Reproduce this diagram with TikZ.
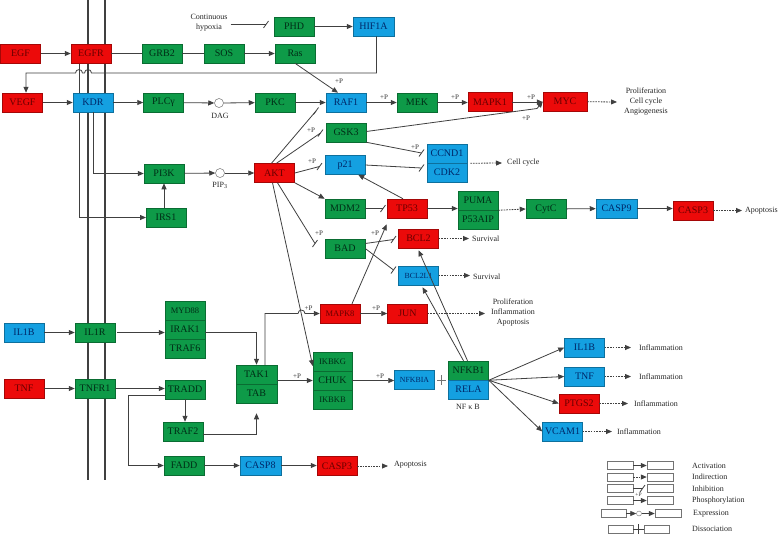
\documentclass[tikz,border=0pt]{standalone}
\usepackage{fontspec}
\setmainfont{Liberation Serif}
\usetikzlibrary{arrows.meta,calc}
\definecolor{kred}{RGB}{236,10,10}
\definecolor{kgreen}{RGB}{14,154,72}
\definecolor{kblue}{RGB}{20,160,225}
\definecolor{kredt}{RGB}{105,0,0}
\definecolor{kgreent}{RGB}{0,45,22}
\definecolor{kbluet}{RGB}{0,40,105}
\definecolor{lnc}{RGB}{64,64,64}
\newcommand\inhtick[1]{\draw[conn] ($(#1)+(-2.5,3.5)$) -- ($(#1)+(2.5,-3.5)$);}
\begin{document}
\begin{tikzpicture}[x=1pt,y=-1pt,
 gene/.style={rectangle, minimum width=40pt, minimum height=19pt, inner sep=0pt, font=\fontsize{10}{12}\selectfont, line width=0.5pt},
 rg/.style={gene, fill=kred, draw=kred!70!black, text=kredt},
 gg/.style={gene, fill=kgreen, draw=kgreen!70!black, text=kgreent},
 bg/.style={gene, fill=kblue, draw=kblue!70!black, text=kbluet},
 sm/.style={font=\fontsize{8.5}{10}\selectfont},
 xs/.style={font=\fontsize{7.8}{9}\selectfont},
 lbl/.style={font=\fontsize{8}{10}\selectfont, inner sep=0pt, text=black!85},
 pl/.style={font=\fontsize{7}{8}\selectfont, inner sep=0pt, text=black!80},
 conn/.style={draw=lnc, line width=0.8pt},
 act/.style={conn, -{Triangle[length=6pt,width=5pt]}},
 ind/.style={act, dash pattern=on 1.6pt off 1.1pt},
 met/.style={circle, draw=black!55, fill=white, minimum size=9pt, inner sep=0pt, line width=0.5pt},
 memb/.style={line width=2.8pt, draw=black!75},
 leg/.style={rectangle, minimum width=26pt, minimum height=8pt, inner sep=0pt, draw=black!55, fill=white, line width=0.5pt}
]
\useasboundingbox[fill=white] (0,0) rectangle (778,536);

% membrane
\draw[memb] (88,0) -- (88,480);
\draw[memb] (105,0) -- (105,480);

% line that passes behind the KDR box
\coordinate (ex) at (79,63);
\draw[act] (ex) |- (146,217.5) coordinate (irsw);

% ---------- nodes ----------
\node[rg] (EGF) at (20.5,53.5) {EGF};
\node[rg] (EGFR) at (91,53.5) {EGFR};
\node[gg] (GRB2) at (162,53.5) {GRB2};
\node[gg] (SOS) at (224,53.5) {SOS};
\node[gg] (Ras) at (295,53.5) {Ras};
\node[gg] (PHD) at (294,26.5) {PHD};
\node[bg, minimum width=41pt] (HIF1A) at (373.5,26.5) {HIF1A};
\node[lbl, align=center] (hyp) at (209,23) {Continuous\\hypoxia};
\node[rg] (VEGF) at (22.5,102.5) {VEGF};
\node[bg] (KDR) at (93,102.5) {KDR};
\node[gg] (PLCy) at (163.5,102.5) {PLCγ};
\node[met] (DAG) at (219,103) {};
\node[lbl] (DAGl) at (220,115.5) {DAG};
\node[gg] (PKC) at (275,102.5) {PKC};
\node[bg] (RAF1) at (346,102.5) {RAF1};
\node[gg] (MEK) at (417,102.5) {MEK};
\node[rg, minimum width=44pt] (MAPK1) at (490,102) {MAPK1};
\node[rg, minimum width=44pt] (MYC) at (565,101.5) {MYC};
\node[lbl, align=center] (prolif1) at (646,102) {Proliferation\\Cell cycle\\Angiogenesis};
\node[gg] (GSK3) at (346,132.5) {GSK3};
\node[bg] (p21) at (345,165) {p21};
\node[bg] (CCND1) at (447,153.5) {CCND1};
\node[bg] (CDK2) at (447,172.5) {CDK2};
\node[lbl, anchor=west] (cc) at (507,163) {Cell cycle};
\node[gg] (PI3K) at (164,173.5) {PI3K};
\node[met] (PIP3) at (220,173) {};
\node[lbl] (PIP3l) at (220,185.5) {PIP\textsubscript{3}};
\node[rg] (AKT) at (274.5,173) {AKT};
\node[gg] (IRS1) at (166,217.5) {IRS1};
\node[gg] (MDM2) at (345,208.5) {MDM2};
\node[rg] (TP53) at (407,208.5) {TP53};
\node[gg] (PUMA) at (478,200.5) {PUMA};
\node[gg] (P53AIP) at (478,219.5) {P53AIP};
\node[gg] (CytC) at (546,209) {CytC};
\node[bg, minimum width=41pt] (CASP9) at (616.5,208.5) {CASP9};
\node[rg] (CASP3a) at (693,210.5) {CASP3};
\node[lbl, anchor=west] (apo1) at (745,210.5) {Apoptosis};
\node[gg] (BAD) at (345,248.5) {BAD};
\node[rg] (BCL2) at (418.5,238.5) {BCL2};
\node[bg, xs] (BCL2L1) at (418.5,275.5) {BCL2L1};
\node[lbl, anchor=west] (surv1) at (472,238.5) {Survival};
\node[lbl, anchor=west] (surv2) at (473,277) {Survival};
\node[rg, sm] (MAPK8) at (340,313.5) {MAPK8};
\node[rg] (JUN) at (407.5,313.5) {JUN};
\node[lbl, align=center] (prolif2) at (513,313) {Proliferation\\Inflammation\\Apoptosis};
\node[bg] (IL1Bl) at (24,332.5) {IL1B};
\node[gg] (IL1R) at (95,332.5) {IL1R};
\node[gg, sm] (MYD88) at (185,310.5) {MYD88};
\node[gg] (IRAK1) at (185,329.5) {IRAK1};
\node[gg] (TRAF6) at (185,348.5) {TRAF6};
\node[rg] (TNFl) at (24,388.5) {TNF};
\node[gg] (TNFR1) at (95,388.5) {TNFR1};
\node[gg] (TRADD) at (185,389.5) {TRADD};
\node[gg] (TRAF2) at (183,431.5) {TRAF2};
\node[gg] (FADD) at (184,465.5) {FADD};
\node[bg, minimum width=41pt] (CASP8) at (260.5,465.5) {CASP8};
\node[rg] (CASP3b) at (337,466) {CASP3};
\node[lbl, anchor=west] (apo2) at (394,464.5) {Apoptosis};
\node[gg, minimum width=41pt] (TAK1) at (256.5,374.5) {TAK1};
\node[gg, minimum width=41pt] (TAB) at (256.5,393.5) {TAB};
\node[gg, sm, minimum width=39pt] (IKBKG) at (332.5,361.5) {IKBKG};
\node[gg, minimum width=39pt] (CHUK) at (332.5,380.5) {CHUK};
\node[gg, sm, minimum width=39pt] (IKBKB) at (332.5,399.5) {IKBKB};
\node[bg, xs] (NFKBIA) at (414.5,380) {NFKBIA};
\node[gg] (NFKB1) at (468.5,370.5) {NFKB1};
\node[bg] (RELA) at (468.5,389.5) {RELA};
\node[lbl] (nfkb) at (468,407) {NF κ B};
\node[bg] (IL1Br) at (584.5,347.5) {IL1B};
\node[bg] (TNFr) at (584.5,376.5) {TNF};
\node[rg] (PTGS2) at (579,403.5) {PTGS2};
\node[bg] (VCAM1) at (562.5,431.5) {VCAM1};
\node[lbl, anchor=west] (inf1) at (639,347.5) {Inflammation};
\node[lbl, anchor=west] (inf2) at (639,376.5) {Inflammation};
\node[lbl, anchor=west] (inf3) at (634,403.5) {Inflammation};
\node[lbl, anchor=west] (inf4) at (617,431.5) {Inflammation};

% ---------- connectors ----------
\draw[act] (EGF) -- (EGFR);
\draw[conn] (EGFR) -- (GRB2);
\draw[conn] (GRB2) -- (SOS);
\draw[act] (SOS) -- (Ras);
\coordinate (tHyp) at (266,24.5);
\draw[conn] ($(hyp.east)+(3,1.5)$) -- (tHyp); \inhtick{tHyp}
\draw[act] (PHD) -- (HIF1A);
\coordinate (vx) at (26,73);
\draw[act] ($(HIF1A.south)+(3,0)$) -- (376.5,73) -- (91.5,73) .. controls (91.5,68.5) and (84.5,68.5) .. (84.5,73) -- (82.5,73) .. controls (82.5,68.5) and (75.5,68.5) .. (75.5,73) -- (vx) -- (vx |- VEGF.north);
\draw[act] (Ras.south) -- ($(RAF1.north)+(-8,0)$);
\node[pl] (p1) at (339,81) {+P};

\draw[act] (VEGF) -- (KDR);
\draw[act] (KDR) -- (PLCy);
\draw[act] (PLCy) -- (DAG);
\draw[act] (DAG) -- (PKC);
\draw[act] (PKC) -- (RAF1);
\draw[act] (RAF1) -- (MEK);
\node[pl] (p2) at (384,97) {+P};
\draw[act] (MEK) -- (MEK -| MAPK1.west);
\node[pl] (p3) at (455,97.5) {+P};
\draw[act] (MAPK1) -- (MAPK1 -| MYC.west);
\node[pl] (p4) at (531,97) {+P};
\coordinate (gm) at (537,108.5);
\draw[act] ($(GSK3.east)+(0,-1)$) -- (gm) -- (MYC.west);
\node[pl] (p5) at (526,118) {+P};
\draw[ind] (MYC) -- ($(prolif1.west)+(-7,0)$);

\draw[act] ($(KDR.south)$) |- (PI3K.west);
\draw[act] (IRS1.north -| PI3K.south) -- (PI3K.south);
\draw[act] (PI3K) -- (PIP3);
\draw[act] (PIP3) -- (AKT);

\coordinate (tRAF) at (316,111);
\draw[conn] ($(AKT.north)+(-3,0)$) -- (tRAF); \inhtick{tRAF}
\coordinate (tGSK) at (320.5,133);
\draw[conn] ($(AKT.north)+(2,0)$) -- (tGSK); \inhtick{tGSK}
\node[pl] (p6) at (311,130.5) {+P};
\coordinate (tp21) at (319.5,166.5);
\draw[conn] (AKT.east) -- (tp21); \inhtick{tp21}
\node[pl] (p7) at (312,161) {+P};
\draw[act] (AKT.south east) -- (MDM2.north west);
\coordinate (tBAD) at (315,243.5);
\draw[conn] ($(AKT.south)+(3,0)$) -- (tBAD); \inhtick{tBAD}
\node[pl] (p8) at (319,233) {+P};
\draw[act] ($(AKT.south)+(-2,0)$) -- ($(IKBKG.west)+(0,4.5)$);

\coordinate (tCC) at (421.5,153);
\draw[conn] (GSK3.south east) -- (tCC); \inhtick{tCC}
\node[pl] (p9) at (415,147.5) {+P};
\coordinate (tCD) at (421.5,168);
\draw[conn] (p21.east) -- (tCD); \inhtick{tCD}
\draw[ind, shorten <=3pt] (CCND1.south east) -- ($(cc.west)+(-5,0)$);

\coordinate (tTP) at (383,208.5);
\draw[conn] (MDM2) -- (tTP); \inhtick{tTP}
\draw[act] ($(TP53.north)+(-4,0)$) -- ($(p21.south east)+(-7,0)$);
\draw[act] (TP53) -- (TP53 -| PUMA.west);
\draw[ind] (PUMA.south east) -- (CytC.west);
\draw[act] (CytC) -- (CASP9);
\draw[act] (CASP9) -- (CASP9 -| CASP3a.west);
\draw[ind] (CASP3a) -- ($(apo1.west)+(-3,0)$);

\coordinate (tB2) at (393.5,239.5);
\draw[conn] ($(BAD.east)+(0,-5)$) -- (tB2); \inhtick{tB2}
\coordinate (tB3) at (393.5,270);
\draw[conn] (BAD.east) -- (tB3); \inhtick{tB3}
\draw[ind] (BCL2) -- ($(surv1.west)+(-3,0)$);
\draw[ind] (BCL2L1.east) -- ($(surv2.west)+(-3,-1.5)$);

\draw[act] ($(MAPK8.north)+(12,0)$) -- ($(TP53.south west)+(0,6)$);
\node[pl] (p10) at (375,233) {+P};
\draw[act] (MAPK8) -- (JUN);
\node[pl] (p11) at (376,308) {+P};
\draw[ind] (JUN) -- ($(JUN -| prolif2.west)+(-6,0)$);
\draw[act] ($(NFKB1.north)+(-1,0)$) -- ($(BCL2.south)+(0,2)$);
\draw[act] ($(NFKB1.north)+(-5,0)$) -- ($(BCL2L1.south)+(4,2)$);

\draw[act] (IL1Bl) -- (IL1R);
\draw[act, shorten <=2pt] (IL1R) -- (IL1R -| IRAK1.west);
\draw[act] ($(IRAK1.east)+(0,3)$) -| (TAK1.north);
\draw[act] (TNFl) -- (TNFR1);
\draw[act] (TNFR1) -- (TNFR1 -| TRADD.west);
\draw[act] (TRADD.south) -- (TRADD.south |- TRAF2.north);
\draw[act] ($(TRAF2.east)+(0,2.5)$) -| ($(TAB.south)+(0,10)$);
\draw[act] ($(TRADD.west)+(0,5.5)$) -- ++(-36,0) |- (FADD.west);
\draw[act] (FADD) -- (CASP8);
\draw[act] (CASP8) -- (CASP8 -| CASP3b.west);
\draw[ind] (CASP3b) -- ($(CASP3b -| apo2.west)+(-6,0)$);

\draw[act] ($(TAK1.north)+(8.5,0)$) -- (265,313.5) -- (298,313.5) .. controls (298,309) and (305,309) .. (305,313.5) -- (MAPK8.west);
\node[pl] (p12) at (308.5,308.5) {+P};
\draw[act] (TAK1.east |- CHUK) -- (CHUK.west);
\node[pl] (p13) at (297,376) {+P};
\draw[act] (CHUK) -- (CHUK -| NFKBIA.west);
\node[pl] (p14) at (380,376.5) {+P};
\coordinate (plc) at ($(NFKBIA.east)!0.5!(NFKB1.west |- NFKBIA)$);
\draw[draw=black!55, line width=0.6pt] ($(plc)+(-4.5,0)$) -- ($(plc)+(4.5,0)$) ($(plc)+(0,-5)$) -- ($(plc)+(0,5)$);

\draw[act] (NFKB1.south east) -- (IL1Br.west);
\draw[act] (NFKB1.south east) -- (TNFr.west);
\draw[act] (NFKB1.south east) -- (PTGS2.west);
\draw[act] (NFKB1.south east) -- (VCAM1.west);
\draw[ind] (IL1Br) -- ($(inf1.west)+(-8,0)$);
\draw[ind] (TNFr) -- ($(inf2.west)+(-8,0)$);
\draw[ind] (PTGS2) -- ($(inf3.west)+(-6,0)$);
\draw[ind] (VCAM1) -- ($(inf4.west)+(-5,0)$);

% ---------- legend ----------
\node[leg] (L1a) at (620,465.5) {};
\node[leg] (L1b) at (660,465.5) {};
\draw[act] (L1a) -- (L1b);
\node[lbl, anchor=west] (T1) at (692,465.5) {Activation};
\node[leg] (L2a) at (620,477) {};
\node[leg] (L2b) at (660,477) {};
\draw[ind] (L2a) -- (L2b);
\node[lbl, anchor=west] (T2) at (692,477) {Indirection};
\node[leg] (L3a) at (620,488.5) {};
\node[leg] (L3b) at (660,488.5) {};
\coordinate (tL) at (642.5,488.5);
\draw[conn] (L3a) -- (tL); \inhtick{tL}
\node[lbl, anchor=west] (T3) at (692,488.5) {Inhibition};
\node[leg] (L4a) at (620,500.5) {};
\node[leg] (L4b) at (660,500.5) {};
\draw[act] (L4a) -- (L4b);
\node[pl, font=\fontsize{5.5}{6}\selectfont] (p15) at (638.5,494.5) {+P};
\node[lbl, anchor=west] (T4) at (692,500.5) {Phosphorylation};
\node[leg, minimum width=25pt] (L5a) at (613.5,513.5) {};
\node[circle, draw=black!55, fill=white, minimum size=5pt, inner sep=0pt] (L5c) at (639,513.5) {};
\node[leg] (L5b) at (668,513.5) {};
\draw[act] (L5a) -- (L5c);
\draw[act] (L5c) -- (L5b);
\node[lbl, anchor=west] (T5) at (693,513.5) {Expression};
\node[leg, minimum width=25pt] (L6a) at (620.5,529) {};
\node[leg, minimum width=25pt] (L6b) at (656.5,529) {};
\draw[conn, line width=0.6pt] (L6a) -- (L6b);
\draw[conn, line width=0.6pt] ($(L6a.east)!0.5!(L6b.west)+(0,-5)$) -- ($(L6a.east)!0.5!(L6b.west)+(0,5)$);
\node[lbl, anchor=west] (T6) at (692,529) {Dissociation};
\end{tikzpicture}
\end{document}
